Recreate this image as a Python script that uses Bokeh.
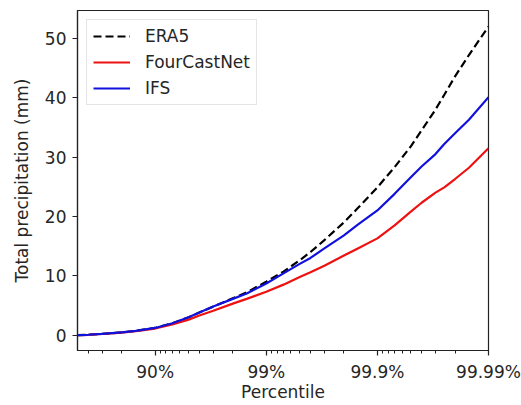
import numpy as np
from bokeh.plotting import figure
from bokeh.models import Range1d, FixedTicker, Legend, LegendItem
from bokeh.embed import file_html
from bokeh.resources import INLINE

# Percentile levels (%) at which the precipitation quantiles are sampled
percentiles = [50, 60, 70, 80, 85, 90, 93, 95, 96, 97, 98, 98.5, 99, 99.3, 99.5,
               99.6, 99.7, 99.8, 99.85, 99.9, 99.93, 99.95, 99.96, 99.97, 99.975,
               99.98, 99.985, 99.99]

# Total precipitation quantiles (mm)
era5 = [0.0, 0.05, 0.2, 0.45, 0.7, 1.2, 2.0, 3.0, 3.8, 4.8, 6.2, 7.2, 9.0, 10.7,
        12.6, 14.0, 16.0, 19.0, 21.4, 24.9, 28.3, 31.8, 34.5, 38.0, 40.5, 43.6,
        47.2, 52.0]
fourcastnet = [0.0, 0.05, 0.18, 0.4, 0.65, 1.1, 1.8, 2.6, 3.3, 4.1, 5.3, 6.1, 7.3,
               8.5, 9.8, 10.6, 11.7, 13.4, 14.6, 16.3, 18.5, 20.8, 22.3, 24.0, 24.9,
               26.3, 28.2, 31.5]
ifs = [0.0, 0.05, 0.2, 0.45, 0.7, 1.2, 2.0, 3.0, 3.8, 4.8, 6.1, 7.0, 8.7, 10.4,
       12.0, 13.0, 14.6, 16.8, 18.6, 21.0, 23.8, 26.6, 28.4, 30.5, 32.2, 34.0,
       36.3, 40.1]

tick_percentiles = [90, 99, 99.9, 99.99]
tick_labels = ["90%", "99%", "99.9%", "99.99%"]


def tail(p):
    """Map a percentile to -log10 of the exceedance fraction."""
    return -np.log10(1.0 - np.asarray(p, dtype=float) / 100.0)


x = tail(percentiles)

FONT = "DejaVu Sans"
TEXT = "#262626"

p = figure(width=521, height=405, output_backend="svg", toolbar_location=None,
           min_border_left=77, min_border_right=33, min_border_top=10,
           min_border_bottom=55,
           x_range=Range1d(float(tail(50)), float(tail(99.99))),
           y_range=Range1d(-2.6, 54.7))

p.background_fill_color = "white"
p.border_fill_color = "white"
p.outline_line_color = "#222222"
p.outline_line_width = 1.2
p.xgrid.visible = False
p.ygrid.visible = False

# minor ticks at 1 - p = k * 10^-d
minor = []
for d in range(1, 5):
    for k in range(2, 10):
        v = -np.log10(k * 10.0 ** -d)
        if tail(50) < v < tail(99.99):
            minor.append(float(v))
major = [float(v) for v in tail(tick_percentiles)]
p.xaxis.ticker = FixedTicker(ticks=major, minor_ticks=minor)
p.xaxis.major_label_overrides = {m: lab for m, lab in zip(major, tick_labels)}
p.yaxis.ticker = FixedTicker(ticks=[0, 10, 20, 30, 40, 50])

p.xaxis.axis_label = "Percentile"
p.yaxis.axis_label = "Total precipitation (mm)"

for ax in (p.xaxis[0], p.yaxis[0]):
    ax.axis_label_text_font = FONT
    ax.axis_label_text_font_size = "17px"
    ax.axis_label_text_font_style = "normal"
    ax.axis_label_text_color = TEXT
    ax.major_label_text_font = FONT
    ax.major_label_text_font_size = "17px"
    ax.major_label_text_color = TEXT
    ax.axis_line_color = "#222222"
    ax.axis_line_width = 1.2
    ax.major_tick_line_color = "#222222"
    ax.major_tick_line_width = 1.2
    ax.major_tick_out = 5
    ax.major_tick_in = 0
    ax.minor_tick_line_color = "#222222"
    ax.minor_tick_out = 3
    ax.minor_tick_in = 0

p.yaxis.minor_tick_line_color = None
p.xaxis.major_label_standoff = 6
p.xaxis.axis_label_standoff = -3
p.yaxis.major_label_standoff = 6
p.yaxis.axis_label_standoff = 10

r_era5 = p.line(x, era5, line_color="black", line_width=2.2, line_dash="8 4")
r_fcn = p.line(x, fourcastnet, line_color="#ee1111", line_width=2.2)
r_ifs = p.line(x, ifs, line_color="#1111dd", line_width=2.2)

legend = Legend(items=[LegendItem(label="ERA5", renderers=[r_era5]),
                       LegendItem(label="FourCastNet", renderers=[r_fcn]),
                       LegendItem(label="IFS", renderers=[r_ifs])],
                location="top_left")
legend.margin = 9
legend.padding = 6
legend.spacing = 6
legend.label_height = 20
legend.glyph_height = 20
legend.glyph_width = 37
legend.label_standoff = 15
legend.label_text_font = FONT
legend.label_text_font_size = "17px"
legend.label_text_color = TEXT
legend.border_line_color = "#cccccc"
legend.border_line_width = 1
legend.background_fill_alpha = 0.8
p.add_layout(legend)

open("out.html", "w").write(file_html(p, INLINE))
